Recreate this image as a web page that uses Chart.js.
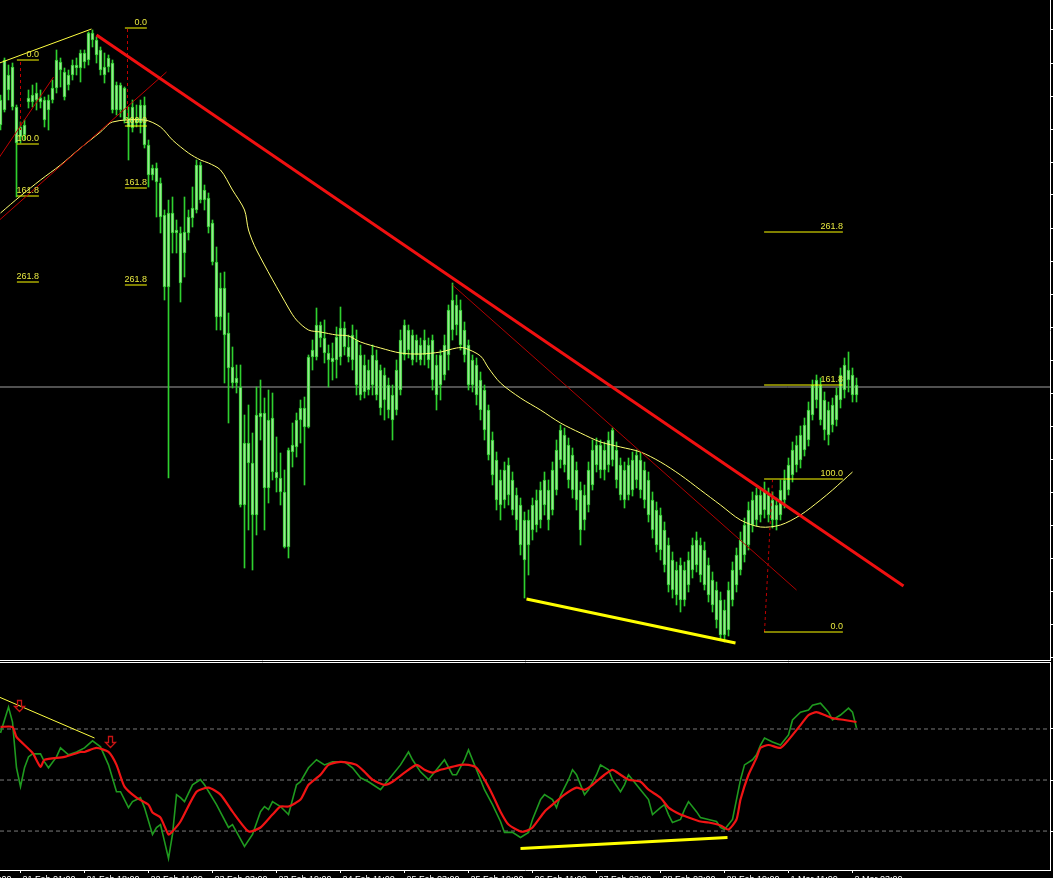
<!DOCTYPE html>
<html>
<head>
<meta charset="utf-8">
<script src="https://cdn.jsdelivr.net/npm/chart.js@4.4.1/dist/chart.umd.min.js"></script>
<style>
  html, body { margin: 0; padding: 0; background: #000; overflow: hidden; width: 1053px; height: 878px; }
  #main { position: absolute; left: 0; top: 0; }
  #osc { position: absolute; left: 0; top: 662px; }
</style>
</head>
<body>
<canvas id="main" width="1053" height="661"></canvas>
<canvas id="osc" width="1053" height="230"></canvas>
<script>
// hourly bars, price in points
const opens = [
  875, 890, 925, 933, 893, 863, 865, 898, 898, 900,  902, 900, 890, 900, 912, 938, 928, 915, 925, 935,
  932, 947, 940, 967, 960, 950, 933, 933, 937, 890,  915, 912, 882, 872, 882, 877, 895, 855, 825, 832,
  817, 785, 713, 787, 767, 767, 747, 767, 782, 790,  835, 800, 802, 777, 738, 683, 712, 667, 633, 617,
  613, 495, 557, 537, 485, 583, 587, 512, 582, 528,  522, 508, 453, 548, 553, 580, 592, 573, 643, 643,
  675, 662, 647, 638, 640, 643, 672, 653, 640, 660,  645, 608, 630, 615, 640, 630, 600, 615, 605, 590,
  610, 645, 670, 640, 660, 655, 645, 655, 660, 635,  615, 625, 645, 670, 695, 690, 670, 655, 615, 635,
  620, 610, 590, 560, 540, 520, 500, 505, 520, 505,  495, 480, 455, 470, 475, 480, 495, 510, 490, 510,
  540, 565, 555, 545, 530, 510, 480, 495, 515, 535,  555, 530, 535, 540, 550, 535, 500, 505, 510, 520,
  540, 530, 520, 500, 490, 485, 470, 455, 440, 430,  400, 430, 415, 430, 435, 455, 450, 435, 420, 410,
  400, 365, 370, 400, 415, 430, 445, 455, 475, 480,  505, 490, 505, 500, 480, 485, 500, 510, 525, 535,
  540, 550, 560, 585, 620, 615, 600, 565, 575, 580,  600, 610, 630, 625, 605
];
const highs = [
  905, 942, 935, 937, 895, 878, 880, 910, 915, 917,  910, 903, 905, 920, 950, 942, 932, 930, 940, 942,
  950, 950, 968, 970, 963, 953, 947, 945, 940, 918,  917, 913, 893, 900, 895, 900, 903, 860, 835, 837,
  822, 790, 800, 803, 780, 773, 803, 790, 813, 840,  838, 815, 807, 780, 753, 727, 728, 687, 653, 635,
  635, 585, 595, 567, 613, 620, 602, 610, 607, 563,  547, 530, 552, 577, 587, 600, 603, 645, 660, 692,
  678, 680, 655, 657, 673, 693, 678, 665, 675, 670,  655, 645, 640, 655, 650, 635, 632, 622, 615, 640,
  670, 680, 675, 670, 665, 662, 670, 662, 665, 645,  650, 665, 695, 717, 705, 700, 678, 660, 645, 642,
  628, 615, 595, 568, 548, 530, 538, 542, 528, 512,  502, 488, 490, 502, 510, 518, 528, 520, 538, 560,
  575, 572, 562, 552, 538, 518, 515, 538, 560, 562,  560, 558, 568, 572, 558, 542, 538, 542, 548, 550,
  548, 538, 528, 508, 498, 492, 478, 462, 448, 438,  442, 438, 448, 462, 468, 462, 458, 442, 428, 418,
  408, 400, 418, 438, 452, 468, 482, 498, 508, 512,  512, 518, 512, 508, 502, 520, 530, 542, 558, 564,
  574, 582, 598, 620, 625, 622, 608, 598, 602, 612,  632, 642, 648, 632, 622
];
const lows = [
  870, 888, 900, 890, 803, 857, 860, 892, 893, 890,  892, 873, 870, 897, 907, 913, 900, 910, 920, 925,
  918, 932, 935, 953, 937, 925, 917, 928, 887, 885,  883, 877, 840, 868, 873, 867, 852, 813, 820, 783,
  767, 700, 522, 747, 747, 698, 723, 760, 773, 787,  797, 790, 767, 735, 670, 670, 617, 577, 612, 607,
  493, 432, 470, 430, 465, 560, 470, 497, 520, 508,  495, 452, 442, 533, 543, 557, 515, 572, 630, 640,
  653, 637, 613, 620, 622, 635, 645, 638, 630, 605,  600, 602, 605, 605, 600, 585, 580, 582, 560, 585,
  605, 640, 642, 635, 638, 635, 635, 632, 610, 590,  600, 620, 630, 660, 665, 650, 638, 610, 608, 595,
  580, 560, 540, 515, 490, 480, 492, 495, 485, 470,  445, 402, 425, 460, 468, 472, 485, 470, 485, 505,
  532, 528, 512, 502, 490, 455, 470, 488, 510, 528,  522, 520, 528, 534, 512, 500, 492, 500, 504, 512,
  502, 492, 478, 462, 448, 440, 428, 408, 402, 395,  388, 394, 408, 422, 428, 418, 410, 398, 388, 372,
  360, 358, 364, 394, 408, 425, 438, 450, 468, 474,  478, 482, 478, 472, 470, 480, 492, 505, 518, 528,
  532, 544, 554, 580, 592, 575, 560, 555, 568, 574,  592, 602, 608, 598, 598
];
const closes = [
  900, 940, 910, 893, 857, 873, 875, 902, 905, 907,  898, 880, 900, 912, 940, 930, 903, 925, 935, 932,
  947, 938, 967, 960, 945, 930, 925, 942, 890, 915,  890, 880, 873, 893, 877, 895, 855, 825, 832, 818,
  783, 713, 787, 767, 770, 717, 768, 783, 792, 835,  800, 810, 773, 738, 683, 712, 665, 632, 617, 622,
  495, 557, 537, 485, 585, 587, 512, 580, 528, 522,  508, 453, 550, 555, 580, 592, 573, 643, 650, 675,
  662, 647, 640, 642, 663, 672, 653, 643, 665, 615,  605, 635, 610, 645, 605, 592, 625, 590, 580, 630,
  660, 675, 650, 665, 645, 640, 660, 640, 620, 605,  645, 655, 690, 700, 675, 655, 645, 615, 640, 605,
  590, 570, 545, 525, 500, 495, 530, 535, 490, 480,  455, 440, 480, 495, 500, 510, 520, 480, 530, 550,
  570, 535, 520, 510, 500, 470, 505, 530, 550, 555,  530, 550, 560, 570, 520, 505, 530, 535, 540, 545,
  510, 500, 485, 470, 455, 450, 435, 415, 410, 405,  435, 400, 440, 455, 460, 425, 415, 405, 395, 380,
  365, 390, 410, 430, 445, 460, 475, 490, 500, 505,  485, 510, 485, 480, 495, 510, 520, 535, 550, 555,
  565, 575, 590, 615, 600, 580, 570, 590, 595, 605,  625, 635, 620, 605, 615
];

// yellow moving average read at some bars
const maIdx = [0, 5, 10, 15, 20, 25, 28, 36, 40, 43, 47, 50, 52, 55, 58, 61, 62, 64, 72, 74, 77, 80, 84, 87, 90, 95,
  100, 105, 110, 114, 116, 120, 122, 125, 130, 135, 140, 145, 150, 155, 160, 165, 170, 175, 180, 185, 190, 195,
  200, 205, 208, 213];
const maVals = [787, 804, 820, 835, 852, 868, 878, 880, 873, 860, 847, 840, 837, 830, 810, 790, 770, 750, 692, 680,
  670, 668, 665, 664, 658, 652, 647, 646, 648, 652, 652, 644, 632, 617, 602, 590, 577, 567, 558, 553, 548, 538,
  525, 510, 495, 480, 473, 475, 485, 500, 510, 528];

// stochastic %K (green) and %D (red)
const kIdx = [0, 2, 3, 4, 5, 6, 7, 8, 10, 11, 12, 14, 15, 17, 19, 21, 23, 25, 27, 29, 30, 32, 33, 35, 36, 38, 39, 40,
  41, 42, 43, 44, 45, 46, 48, 50, 51, 54, 57, 58, 61, 63, 65, 66, 67, 68, 70, 72, 74, 75, 77, 79, 81, 83, 86, 88,
  90, 92, 95, 97, 100, 102, 103, 105, 107, 109, 111, 113, 114, 116, 117, 119, 121, 123, 125, 126, 128, 130, 132,
  133, 135, 136, 138, 139, 140, 142, 143, 144, 146, 147, 149, 150, 152, 153, 155, 156, 157, 159, 160, 162, 163,
  165, 166, 167, 168, 170, 171, 172, 174, 175, 177, 179, 180, 181, 183, 184, 185, 186, 188, 189, 190, 191, 193,
  195, 197, 198, 200, 202, 203, 205, 207, 208, 210, 212, 213, 214];
const kVals = [77.7, 92.9, 84.1, 57.2, 46.1, 57.2, 63.6, 65.4, 65.4, 60.7, 57.2, 63.6, 68.9, 64.8, 66.5, 68.9, 73.0,
  69.5, 58.9, 43.1, 43.1, 33.8, 37.3, 39.6, 33.8, 18.0, 22.1, 23.8, 13.9, 3.9, 18.0, 41.4, 39.6, 37.3, 47.2, 50.2,
  47.2, 35.5, 22.1, 23.8, 11.0, 18.0, 31.4, 34.4, 32.6, 37.3, 34.4, 29.7, 47.2, 49.0, 57.2, 61.9, 58.9, 60.7, 60.7,
  57.2, 51.3, 49.0, 44.3, 50.2, 58.9, 66.5, 61.9, 54.8, 50.2, 56.0, 61.9, 53.1, 53.1, 61.9, 67.7, 56.0, 44.3, 35.5,
  25.6, 19.2, 19.2, 16.2, 19.2, 26.8, 38.5, 41.4, 38.5, 33.8, 40.8, 50.2, 56.0, 53.1, 41.4, 44.3, 53.1, 58.9, 56.0,
  50.2, 43.1, 47.2, 53.1, 47.2, 44.3, 38.5, 29.7, 33.8, 35.5, 29.7, 25.0, 26.8, 32.6, 37.3, 31.4, 27.9, 26.8, 25.6,
  22.1, 20.9, 26.8, 38.5, 50.2, 58.9, 61.9, 64.8, 70.6, 74.7, 72.4, 70.6, 76.5, 85.3, 89.9, 91.1, 94.0, 95.2, 89.9,
  85.3, 88.2, 92.3, 89.9, 80.6];
const dIdx = [0, 3, 4, 8, 10, 11, 16, 20, 21, 24, 27, 29, 31, 34, 37, 38, 40, 42, 43, 45, 49, 52, 55, 58, 62, 65, 68,
  70, 72, 75, 77, 80, 82, 85, 87, 89, 91, 93, 96, 98, 101, 104, 106, 108, 110, 112, 115, 117, 119, 121, 123, 125,
  127, 130, 131, 133, 136, 138, 141, 144, 146, 148, 151, 153, 155, 157, 160, 162, 165, 167, 170, 172, 175, 177,
  180, 182, 184, 185, 187, 189, 190, 192, 195, 197, 200, 202, 204, 206, 208, 211, 214];
const dVals = [81.2, 81.2, 75.3, 66.0, 57.8, 61.9, 63.6, 66.5, 66.5, 68.9, 66.5, 58.9, 46.1, 39.6, 35.5, 30.9, 27.9,
  18.0, 19.8, 25.6, 43.1, 45.5, 41.4, 31.4, 19.8, 22.1, 29.7, 34.4, 34.4, 38.5, 47.2, 53.1, 58.9, 60.7, 60.1, 58.9,
  54.8, 50.2, 47.2, 49.0, 54.3, 58.9, 56.0, 54.3, 56.0, 57.2, 58.9, 58.9, 57.2, 50.2, 41.4, 31.4, 23.8, 19.8, 19.8,
  22.1, 31.4, 35.5, 41.4, 45.5, 44.3, 47.2, 53.1, 56.0, 53.1, 50.2, 49.0, 44.3, 39.6, 33.8, 29.7, 28.0, 25.6, 25.0,
  23.3, 20.9, 26.8, 38.5, 53.1, 63.0, 68.9, 70.6, 68.9, 73.6, 82.3, 88.2, 89.9, 88.2, 86.4, 85.3, 84.1];
const oscLevels = [20, 50, 80];

// drawn objects: [bar, price] pairs
const redTrend = [[24, 965], [225.75, 414]];
const redThinA = [[-0.25, 780], [41.5, 928]];
const redThinB = [[-0.25, 843], [13.25, 923]];
const redThinC = [[113, 715], [199, 410]];
const yellowTop = [[-0.25, 937], [22.75, 971]];
const yellowLow = [[131.5, 401], [183.75, 357]];
const hLine = 613;
const oscYellowThin = [[-0.25, 98.7], [23.5, 74.7]];
const oscYellowLow = [[130, 9.8], [181.75, 16.2]];
const arrowMarks = [[4.5, 93.5], [27.25, 72.4]];

// fibonacci levels
const fibNames = ['0.0', '100.0', '161.8', '261.8'];
const fibA = [940, 856, 804, 718];
const fibB = [972, 874, 812, 715];
const fibC = [368, 521, 615, 768];
const fibSpan = [[4.1, 9.6], [31.1, 36.6], [190.9, 210.6]];
const fibLinks = [[[5, 938], [5, 870]], [[31.75, 971], [31.75, 880]], [[191, 368], [193, 520]]];

const priceTicks = [970, 937, 904, 871, 838, 805, 772, 739, 706, 673, 640, 607, 574, 541, 508, 475, 442, 409, 376, 343];
const timeTickIdx = [-11, 5, 21, 37, 53, 69, 85, 101, 117, 133, 149, 165, 181, 197, 213];
const timeLabels = ['20 Feb 08:00', '21 Feb 01:00', '21 Feb 18:00', '22 Feb 11:00', '23 Feb 03:00', '23 Feb 19:00',
  '24 Feb 11:00', '25 Feb 03:00', '25 Feb 19:00', '26 Feb 11:00', '27 Feb 03:00', '28 Feb 03:00', '28 Feb 19:00',
  '1 Mar 11:00', '2 Mar 03:00'];

const xMin = -0.125;
const xMax = xMin + 1050 / 4;

function seg(points, color, width, order, dash) {
  return {
    type: 'line',
    data: points.map(p => ({x: p[0], y: p[1]})),
    borderColor: color,
    borderWidth: width,
    borderDash: dash || [],
    pointRadius: 0,
    tension: 0,
    order: order
  };
}

const fibSets = [fibA, fibB, fibC];
const fibDatasets = [];
fibSets.forEach((levels, k) => {
  levels.forEach(v => {
    fibDatasets.push(seg([[fibSpan[k][0], v], [fibSpan[k][1], v]], '#ffff00', 1, 2));
  });
  fibDatasets.push(seg(fibLinks[k], '#c00000', 1, 2, [3, 3]));
});

const fibText = {
  id: 'fibText',
  afterDatasetsDraw(chart) {
    const {ctx, scales} = chart;
    ctx.save();
    ctx.font = "9px 'Liberation Sans'";
    ctx.fillStyle = '#e8e840';
    ctx.textAlign = 'right';
    ctx.textBaseline = 'bottom';
    fibSets.forEach((levels, k) => {
      levels.forEach((v, n) => {
        ctx.fillText(fibNames[n], scales.x.getPixelForValue(fibSpan[k][1]), scales.y.getPixelForValue(v) - 1);
      });
    });
    ctx.restore();
  },
  afterDraw(chart) {
    const {ctx, chartArea} = chart;
    ctx.save();
    ctx.strokeStyle = '#ffffff';
    ctx.lineWidth = 1;
    ctx.beginPath();
    ctx.moveTo(0, chartArea.bottom + 0.5);
    ctx.lineTo(chartArea.right + 1, chartArea.bottom + 0.5);
    ctx.stroke();
    ctx.restore();
  }
};

const candleColor = '#2fd02f';

new Chart(document.getElementById('main'), {
  type: 'bar',
  data: {
    datasets: [
      {
        label: 'wick',
        data: opens.map((o, i) => ({x: i, y: [lows[i], highs[i]]})),
        backgroundColor: candleColor,
        borderWidth: 0,
        barThickness: 1,
        grouped: false,
        order: 5
      },
      {
        label: 'body',
        data: opens.map((o, i) => ({x: i, y: [o, closes[i]]})),
        backgroundColor: '#98e890',
        borderColor: candleColor,
        borderWidth: 1,
        borderSkipped: false,
        barThickness: 3,
        grouped: false,
        order: 4
      },
      {
        type: 'line',
        label: 'MA',
        data: maIdx.map((x, i) => ({x: x, y: maVals[i]})),
        borderColor: '#ffff70',
        borderWidth: 1,
        pointRadius: 0,
        tension: 0.3,
        order: 3
      },
      seg([[xMin, hLine], [xMax, hLine]], '#a0a0a0', 1, 6),
      ...fibDatasets,
      seg(redThinA, '#c00000', 1, 1),
      seg(redThinB, '#c00000', 1, 1),
      seg(redThinC, '#b00000', 1, 1),
      seg(yellowTop, '#ffff40', 1, 1),
      seg(yellowLow, '#ffff00', 3, 1),
      seg(redTrend, '#f01010', 3, 0)
    ]
  },
  options: {
    responsive: false,
    devicePixelRatio: 1,
    animation: false,
    layout: {padding: {left: 0, right: 0, top: 0, bottom: 1}},
    plugins: {legend: {display: false}, tooltip: {enabled: false}},
    scales: {
      x: {type: 'linear', min: xMin, max: xMax, offset: false, display: false},
      y: {
        position: 'right',
        min: 340,
        max: 1000,
        afterBuildTicks: s => { s.ticks = priceTicks.map(v => ({value: v})); },
        afterFit: s => { s.width = 3; },
        ticks: {display: false},
        grid: {drawOnChartArea: false, drawTicks: true, tickLength: 4, color: '#ffffff'},
        border: {display: true, color: '#ffffff', width: 1}
      }
    }
  },
  plugins: [fibText]
});

// hollow down arrow signal mark
function drawArrow(ctx, cx, cy) {
  cx = Math.round(cx) + 0.5;
  cy = Math.round(cy) + 0.5;
  ctx.beginPath();
  ctx.moveTo(cx - 2, cy - 6);
  ctx.lineTo(cx + 2, cy - 6);
  ctx.lineTo(cx + 2, cy);
  ctx.lineTo(cx + 5, cy);
  ctx.lineTo(cx, cy + 5);
  ctx.lineTo(cx - 5, cy);
  ctx.lineTo(cx - 2, cy);
  ctx.closePath();
  ctx.stroke();
}

const oscExtras = {
  id: 'oscExtras',
  afterDatasetsDraw(chart) {
    const {ctx, scales} = chart;
    ctx.save();
    ctx.strokeStyle = '#c81414';
    ctx.lineWidth = 1.3;
    arrowMarks.forEach(a => {
      drawArrow(ctx, scales.x.getPixelForValue(a[0]), scales.y.getPixelForValue(a[1]));
    });
    ctx.restore();
  },
  afterDraw(chart) {
    const {ctx, chartArea} = chart;
    ctx.save();
    ctx.strokeStyle = '#ffffff';
    ctx.lineWidth = 1;
    ctx.beginPath();
    ctx.moveTo(0, 0.5);
    ctx.lineTo(chartArea.right + 1, 0.5);
    ctx.stroke();
    ctx.restore();
  }
};

new Chart(document.getElementById('osc'), {
  type: 'line',
  data: {
    datasets: [
      ...oscLevels.map(v => seg([[xMin, v], [xMax, v]], '#7a7a7a', 1, 5, [4, 3])),
      {
        label: '%K',
        data: kIdx.map((x, i) => ({x: x, y: kVals[i]})),
        borderColor: '#1f9a1f',
        borderWidth: 1.6,
        pointRadius: 0,
        tension: 0,
        order: 3
      },
      {
        label: '%D',
        data: dIdx.map((x, i) => ({x: x, y: dVals[i]})),
        borderColor: '#f01414',
        borderWidth: 2.2,
        pointRadius: 0,
        tension: 0.2,
        order: 2
      },
      seg(oscYellowThin, '#ffff40', 1, 1),
      seg(oscYellowLow, '#ffff00', 3, 1)
    ]
  },
  options: {
    responsive: false,
    devicePixelRatio: 1,
    animation: false,
    layout: {padding: {left: 0, right: 0, top: 1, bottom: 0}},
    plugins: {legend: {display: false}, tooltip: {enabled: false}},
    scales: {
      x: {
        type: 'linear',
        min: xMin,
        max: xMax,
        offset: false,
        afterBuildTicks: s => { s.ticks = timeTickIdx.map(v => ({value: v})); },
        afterFit: s => { s.height = 22; s.paddingLeft = 0; s.paddingRight = 0; },
        ticks: {
          autoSkip: false,
          maxRotation: 0,
          align: 'start',
          labelOffset: 2,
          padding: 1,
          color: '#ffffff',
          font: {family: 'Liberation Sans', size: 9},
          callback: (v, i) => timeLabels[i]
        },
        grid: {drawOnChartArea: false, drawTicks: true, tickLength: 3, color: '#ffffff'},
        border: {display: true, color: '#ffffff', width: 1}
      },
      y: {
        position: 'right',
        min: -2.9,
        max: 118.8,
        afterBuildTicks: s => { s.ticks = oscLevels.map(v => ({value: v})); },
        afterFit: s => { s.width = 3; },
        ticks: {display: false},
        grid: {drawOnChartArea: false, drawTicks: true, tickLength: 4, color: '#ffffff'},
        border: {display: true, color: '#ffffff', width: 1}
      }
    }
  },
  plugins: [oscExtras]
});
</script>
</body>
</html>
